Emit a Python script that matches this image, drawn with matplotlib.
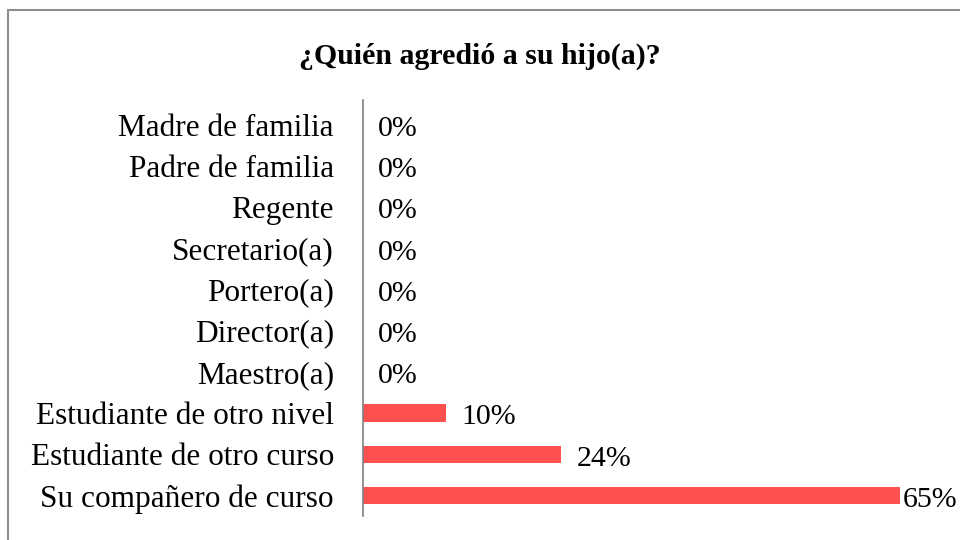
import matplotlib
matplotlib.use("Agg")
import matplotlib.pyplot as plt
from matplotlib.patches import Rectangle

categories = ["Su compañero de curso", "Estudiante de otro curso", "Estudiante de otro nivel",
              "Maestro(a)", "Director(a)", "Portero(a)", "Secretario(a)", "Regente",
              "Padre de familia", "Madre de familia"]
values = [65, 24, 10, 0, 0, 0, 0, 0, 0, 0]
value_labels = ["65%", "24%", "10%", "0%", "0%", "0%", "0%", "0%", "0%", "0%"]
title = "¿Quién agredió a su hijo(a)?"

plt.rcParams['font.family'] = ['Liberation Serif', 'DejaVu Serif']

fig = plt.figure(figsize=(9.6, 5.4), dpi=100)
fig.patch.set_facecolor("white")
ax = fig.add_axes([363/960, 1 - 516/540, (900-363)/960, (516-100)/540])

y = list(range(len(categories)))
ax.barh(y, values, height=0.42, color="#FF5050", edgecolor="none")
ax.set_xlim(0, max(values))
ax.set_ylim(-0.5, len(categories) - 0.4)
ax.set_yticks(y)
ax.set_yticklabels(categories, fontsize=22.5)
ax.tick_params(axis="y", length=0, pad=21)
for t in ax.get_yticklabels():
    t.set_verticalalignment("center_baseline")
ax.set_xticks([])
for s in ["top", "right", "bottom"]:
    ax.spines[s].set_visible(False)
ax.spines["left"].set_color("#808080")
ax.spines["left"].set_linewidth(1.2)

vmax = max(values)
for yi, v, lab in zip(y, values, value_labels):
    off = 2 if v == vmax else 11
    ax.annotate(lab, (v, yi), xytext=(off, -1), textcoords="offset points",
                ha="left", va="center_baseline", fontsize=21.5, annotation_clip=False)

fig.text(480/960, 1 - 53/540, title, ha="center", va="center_baseline",
         fontsize=21.5, fontweight="bold")

fig.patches.append(Rectangle((8/960, -0.2), 1.2, 1 - 10/540 + 0.2,
                             transform=fig.transFigure, fill=False,
                             edgecolor="#8c8c8c", linewidth=1.5, clip_on=False))

fig.savefig("out.png", dpi=100)
